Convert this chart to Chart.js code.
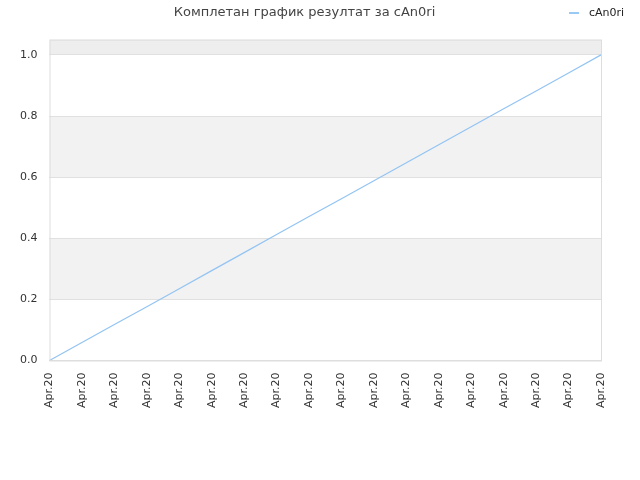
<!DOCTYPE html>
<html>
<head>
<meta charset="utf-8">
<script src="https://cdn.jsdelivr.net/npm/chart.js@4/dist/chart.umd.min.js"></script>
<style>
  body { margin: 0; background: #fff; }
  #wrap { position: relative; width: 640px; height: 480px; }
  #legend { position: absolute; top: 6px; right: 16px; font: 11px "DejaVu Sans", sans-serif; color: #222; }
  #legend span { display: inline-block; width: 10px; height: 0; border-top: 2px solid #99c9f5; vertical-align: middle; margin-right: 10px; }
</style>
</head>
<body>
<div id="wrap">
  <canvas id="chart" width="640" height="480"></canvas>
  <div id="legend"><span></span>cAn0ri</div>
</div>
<script>
const labels = ['Apr.20', 'Apr.20', 'Apr.20', 'Apr.20', 'Apr.20', 'Apr.20', 'Apr.20', 'Apr.20', 'Apr.20',
                'Apr.20', 'Apr.20', 'Apr.20', 'Apr.20', 'Apr.20', 'Apr.20', 'Apr.20', 'Apr.20', 'Apr.20'];
const scores = [0, 0.059, 0.118, 0.176, 0.235, 0.294, 0.353, 0.412, 0.471,
                0.529, 0.588, 0.647, 0.706, 0.765, 0.824, 0.882, 0.941, 1.0];
const yMax = 1.05;
const yStep = 0.2;

// alternating horizontal bands + box around the plot
const bands = {
    id: 'bands',
    beforeDraw(chart) {
        const { ctx, chartArea: a, scales: { y } } = chart;
        ctx.save();
        let i = 0;
        for (let v = 0; v < yMax - 1e-9; v += yStep, i++) {
            const top = y.getPixelForValue(Math.min(v + yStep, yMax));
            const bot = y.getPixelForValue(v);
            if (v >= 1 - 1e-9) ctx.fillStyle = '#eeeeee';
            else if (i % 2 === 1) ctx.fillStyle = '#f2f2f2';
            else continue;
            ctx.fillRect(a.left, top, a.right - a.left, bot - top);
        }
        ctx.restore();
    },
    afterDraw(chart) {
        const { ctx, chartArea: a } = chart;
        ctx.save();
        ctx.strokeStyle = '#dddddd';
        ctx.lineWidth = 1;
        ctx.strokeRect(a.left + 0.5, a.top + 0.5, a.right - a.left, a.bottom - a.top);
        ctx.restore();
    }
};

new Chart(document.getElementById('chart'), {
    type: 'line',
    data: {
        labels: labels,
        datasets: [{
            label: 'cAn0ri',
            data: scores,
            borderColor: '#93c4f3',
            borderWidth: 1.2,
            pointRadius: 0,
            tension: 0,
            fill: false
        }]
    },
    options: {
        responsive: false,
        animation: false,
        layout: { padding: { left: 8, right: 39, top: 0, bottom: 68 } },
        plugins: {
            legend: { display: false },
            tooltip: { enabled: false },
            title: {
                display: true,
                text: 'Комплетан график резултат за cAn0ri',
                color: '#444',
                font: { family: 'DejaVu Sans', size: 13, weight: 'normal' },
                padding: { top: 5, bottom: 19 }
            }
        },
        scales: {
            x: {
                offset: false,
                grid: { display: false },
                border: { display: false },
                ticks: {
                    color: '#333',
                    font: { family: 'DejaVu Sans', size: 11 },
                    minRotation: 90,
                    maxRotation: 90,
                    autoSkip: false,
                    padding: 4
                }
            },
            y: {
                min: 0,
                max: yMax,
                afterBuildTicks(scale) {
                    scale.ticks = scale.ticks.filter(t => t.value <= 1.0001);
                },
                grid: { color: '#e0e0e0', drawTicks: false },
                border: { display: false },
                ticks: {
                    stepSize: yStep,
                    color: '#333',
                    font: { family: 'DejaVu Sans', size: 11 },
                    padding: 12,
                    callback: v => v.toFixed(1)
                }
            }
        }
    },
    plugins: [bands]
});
</script>
</body>
</html>
